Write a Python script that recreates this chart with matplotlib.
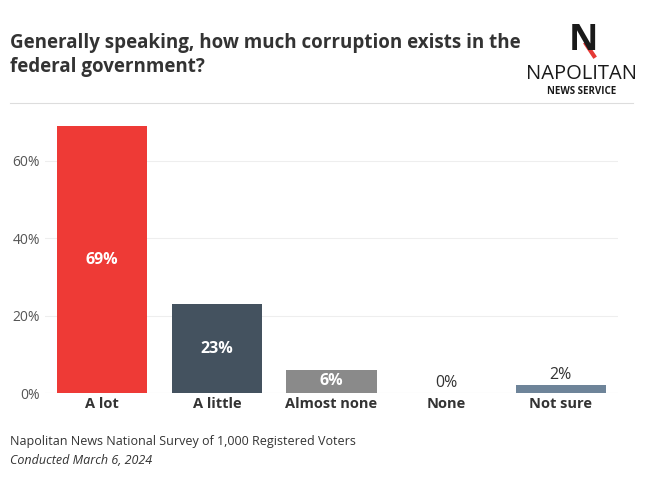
import matplotlib.pyplot as plt
from matplotlib.lines import Line2D

categories = ['A lot', 'A little', 'Almost none', 'None', 'Not sure']
values = [69, 23, 6, 0, 2]
colors = ['#EE3A36', '#44525F', '#8A8A8A', '#8A8A8A', '#6E8499']
inside = [True, True, True, False, False]
yticks = [0, 20, 40, 60]

plt.rcParams['font.family'] = ['Open Sans', 'DejaVu Sans']

fig = plt.figure(figsize=(6.5, 4.83), dpi=100)
ax = fig.add_axes([0.069, 0.1863, 0.882, 0.5632])

x = range(len(categories))
bars = ax.bar(x, values, width=0.79, color=colors, zorder=2)
for b, v, ins in zip(bars, values, inside):
    cx = b.get_x() + b.get_width() / 2
    if ins:
        ax.text(cx, v / 2, f'{v}%', ha='center', va='center', color='white',
                fontsize=11.5, fontweight='bold')
    else:
        ax.text(cx, v + 0.6, f'{v}%', ha='center', va='bottom', color='#333333',
                fontsize=11.5)

ax.set_xlim(-0.5, len(categories) - 0.5)
ax.set_ylim(0, 70.3)
ax.set_yticks(yticks)
ax.set_yticklabels([f'{t}%' for t in yticks], color='#555555', fontsize=10)
ax.set_xticks(list(x))
ax.set_xticklabels(categories, fontsize=10.5, fontweight='bold', color='#333333')
ax.tick_params(axis='both', length=0)
ax.tick_params(axis='x', pad=3)
ax.grid(axis='y', color='#EEEEEE', linewidth=0.8, zorder=0)
for s in ax.spines.values():
    s.set_visible(False)
ax.axhline(0, color='#EEEEEE', linewidth=0.8, zorder=1)

fig.text(10 / 650, 1 - 55 / 483,
         'Generally speaking, how much corruption exists in the\nfederal government?',
         ha='left', va='center', fontsize=13.5, fontweight='bold', color='#333333',
         linespacing=1.3)
fig.add_artist(Line2D([10 / 650, 633 / 650], [1 - 103 / 483] * 2,
                      color='#DDDDDD', linewidth=0.8))

# logo
fig.text(583 / 650, 1 - 41 / 483, 'N', ha='center', va='center', fontsize=26,
         fontweight='bold', color='#1A1A1A')
fig.add_artist(Line2D([586 / 650, 594 / 650], [1 - 44 / 483, 1 - 56 / 483],
                      color='#E53935', linewidth=3))
fig.text(581 / 650, 1 - 74 / 483, 'NAPOLITAN', ha='center', va='center',
         fontsize=14.5, color='#1A1A1A')
fig.text(582 / 650, 1 - 91 / 483, 'NEWS SERVICE', ha='center', va='center',
         fontsize=7, fontweight='bold', color='#1A1A1A')

fig.text(10 / 650, 1 - 441 / 483,
         'Napolitan News National Survey of 1,000 Registered Voters',
         ha='left', va='center', fontsize=9, color='#333333')
fig.text(10 / 650, 1 - 460 / 483, 'Conducted March 6, 2024',
         ha='left', va='center', fontsize=9, style='italic', color='#333333')

fig.savefig('out.png', dpi=100)
